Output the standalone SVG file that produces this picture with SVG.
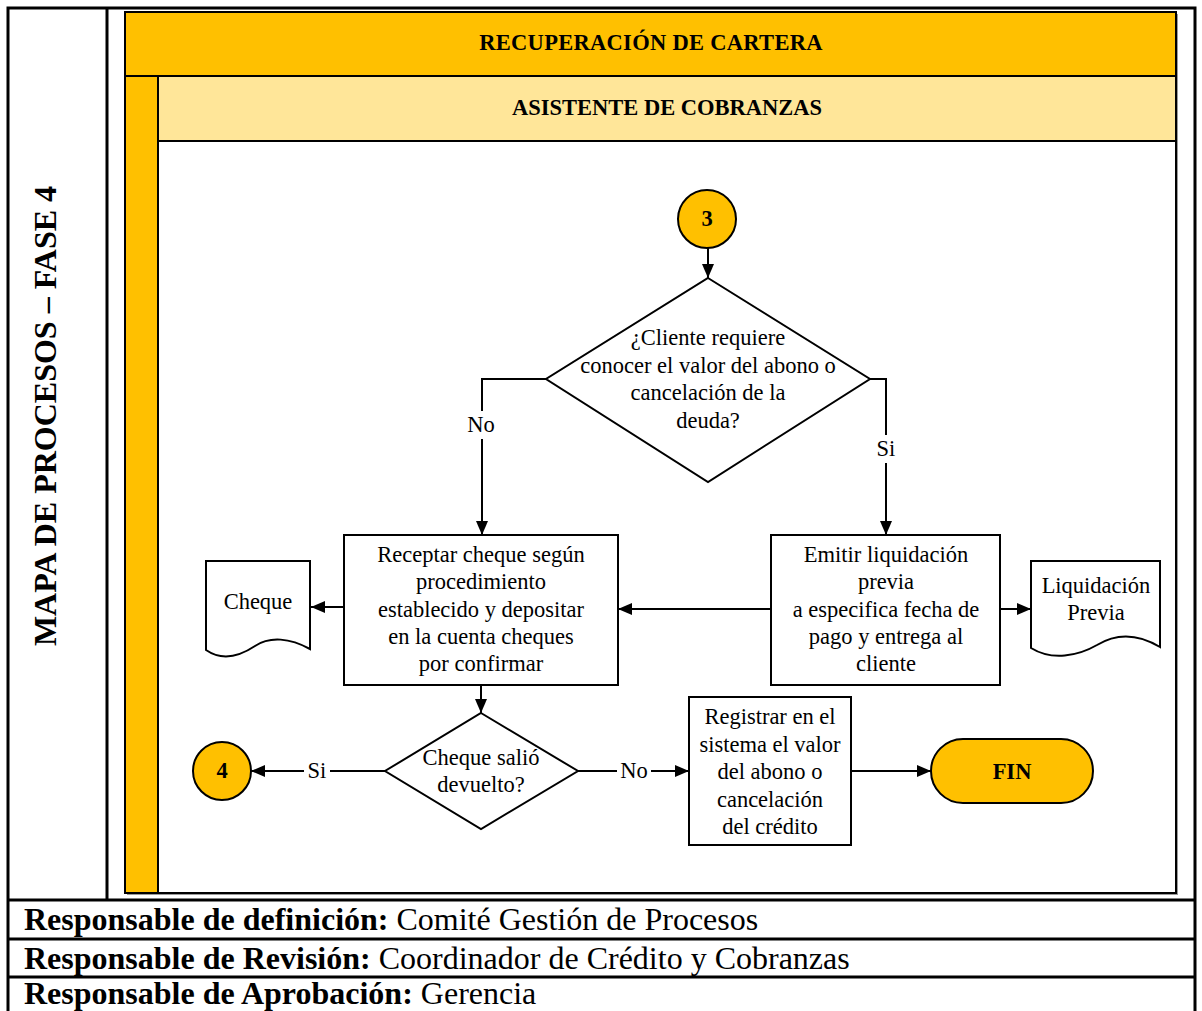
<svg xmlns="http://www.w3.org/2000/svg" width="1202" height="1011" viewBox="0 0 1202 1011">
  <style>
    text { font-family: "Liberation Serif", "Times New Roman", serif; fill: #000; }
    .t { font-size: 22.5px; text-anchor: middle; }
    .b { font-weight: bold; }
    .node { fill: #fff; stroke: #000; stroke-width: 2; }
    .gold { fill: #FFC000; stroke: #000; stroke-width: 2; }
    .conn { fill: none; stroke: #000; stroke-width: 2; }
    .grid { stroke: #000; stroke-width: 3; fill: none; }
    .foot { font-size: 32px; }
  </style>
  <defs>
    <marker id="arrow" viewBox="0 0 14 12" refX="14" refY="6" markerWidth="14" markerHeight="12" markerUnits="userSpaceOnUse" orient="auto">
      <path d="M0,0 L14,6 L0,12 Z" fill="#000"/>
    </marker>
  </defs>

  <rect width="1202" height="1011" fill="#fff"/>

  <!-- outer table frame -->
  <g id="frame">
    <path class="grid" d="M8,1011 V8 H1195 V1011"/>
    <line class="grid" x1="107" y1="8" x2="107" y2="900"/>
    <line class="grid" x1="8" y1="900" x2="1195" y2="900"/>
    <line class="grid" x1="8" y1="939" x2="1195" y2="939"/>
    <line class="grid" x1="8" y1="977" x2="1195" y2="977"/>
    <text class="b" font-size="32" text-anchor="middle" transform="translate(56,416) rotate(-90)">MAPA DE PROCESOS – FASE 4</text>
  </g>

  <!-- swimlane pool -->
  <g id="pool">
    <rect x="127" y="14" width="1051" height="881" fill="#9a9a9a"/>
    <rect x="125" y="12" width="1051" height="881" fill="#fff" stroke="#000" stroke-width="2"/>
    <rect x="125" y="12" width="1051" height="64" fill="#FFC000" stroke="#000" stroke-width="2"/>
    <rect x="125" y="76" width="33" height="817" fill="#FFC000" stroke="#000" stroke-width="2"/>
    <rect x="158" y="76" width="1018" height="65" fill="#FFE699" stroke="#000" stroke-width="2"/>
    <text class="t b" x="651" y="50" letter-spacing="0.3">RECUPERACIÓN DE CARTERA</text>
    <text class="t b" x="667" y="115">ASISTENTE DE COBRANZAS</text>
  </g>

  <!-- connectors -->
  <g id="connectors">
    <line class="conn" x1="708" y1="248" x2="708" y2="278" marker-end="url(#arrow)"/>
    <polyline class="conn" points="546,379 482,379 482,535" marker-end="url(#arrow)"/>
    <polyline class="conn" points="870,379 886,379 886,535" marker-end="url(#arrow)"/>
    <line class="conn" x1="771" y1="609" x2="618" y2="609" marker-end="url(#arrow)"/>
    <line class="conn" x1="344" y1="607" x2="311" y2="607" marker-end="url(#arrow)"/>
    <line class="conn" x1="1000" y1="609" x2="1031" y2="609" marker-end="url(#arrow)"/>
    <line class="conn" x1="481" y1="685" x2="481" y2="713" marker-end="url(#arrow)"/>
    <line class="conn" x1="385" y1="771" x2="251" y2="771" marker-end="url(#arrow)"/>
    <line class="conn" x1="578" y1="771" x2="689" y2="771" marker-end="url(#arrow)"/>
    <line class="conn" x1="851" y1="771" x2="931" y2="771" marker-end="url(#arrow)"/>
    <!-- branch labels -->
    <rect x="464" y="411" width="36" height="28" fill="#fff"/>
    <text class="t" x="481" y="432">No</text>
    <rect x="873" y="435" width="26" height="28" fill="#fff"/>
    <text class="t" x="886" y="456">Si</text>
    <rect x="304" y="757" width="26" height="28" fill="#fff"/>
    <text class="t" x="317" y="778">Si</text>
    <rect x="617" y="757" width="34" height="28" fill="#fff"/>
    <text class="t" x="634" y="778">No</text>
  </g>

  <g id="conector3">
    <circle class="gold" cx="707" cy="219" r="29"/>
    <text class="t b" x="707" y="226">3</text>
  </g>

  <g id="decision1">
    <polygon class="node" points="708,278 870,379 708,482 546,379"/>
    <text class="t" x="708" y="345">¿Cliente requiere</text>
    <text class="t" x="708" y="373">conocer el valor del abono o</text>
    <text class="t" x="708" y="400">cancelación de la</text>
    <text class="t" x="708" y="428">deuda?</text>
  </g>

  <g id="receptar">
    <rect class="node" x="344" y="535" width="274" height="150"/>
    <text class="t" x="481" y="562">Receptar cheque según</text>
    <text class="t" x="481" y="589">procedimiento</text>
    <text class="t" x="481" y="617">establecido y depositar</text>
    <text class="t" x="481" y="644">en la cuenta cheques</text>
    <text class="t" x="481" y="671">por confirmar</text>
  </g>

  <g id="emitir">
    <rect class="node" x="771" y="535" width="229" height="150"/>
    <text class="t" x="886" y="562">Emitir liquidación</text>
    <text class="t" x="886" y="589">previa</text>
    <text class="t" x="886" y="617">a especifica fecha de</text>
    <text class="t" x="886" y="644">pago y entrega al</text>
    <text class="t" x="886" y="671">cliente</text>
  </g>

  <g id="doc-cheque">
    <path class="node" d="M206,561 H310 V649 C290,638 270,636 255,646 C240,656 222,661 206,650 Z"/>
    <text class="t" x="258" y="609">Cheque</text>
  </g>

  <g id="doc-liquidacion">
    <path class="node" d="M1031,561 H1160 V647 C1135,632 1115,634 1097,645 C1078,656 1052,661 1031,648 Z"/>
    <text class="t" x="1096" y="593">Liquidación</text>
    <text class="t" x="1096" y="620">Previa</text>
  </g>

  <g id="decision2">
    <polygon class="node" points="481,713 578,771 481,829 385,771"/>
    <text class="t" x="481" y="765">Cheque salió</text>
    <text class="t" x="481" y="792">devuelto?</text>
  </g>

  <g id="conector4">
    <circle class="gold" cx="222" cy="771" r="29"/>
    <text class="t b" x="222" y="778">4</text>
  </g>

  <g id="registrar">
    <rect class="node" x="689" y="697" width="162" height="148"/>
    <text class="t" x="770" y="724">Registrar en el</text>
    <text class="t" x="770" y="752">sistema el valor</text>
    <text class="t" x="770" y="779">del abono o</text>
    <text class="t" x="770" y="807">cancelación</text>
    <text class="t" x="770" y="834">del crédito</text>
  </g>

  <g id="fin">
    <rect class="gold" x="931" y="739" width="162" height="64" rx="32" ry="32"/>
    <text class="t b" x="1012" y="779">FIN</text>
  </g>

  <!-- responsibility rows -->
  <g id="responsables">
    <text class="foot" x="24" y="930"><tspan class="b">Responsable de definición:</tspan> Comité Gestión de Procesos</text>
    <text class="foot" x="24" y="969"><tspan class="b">Responsable de Revisión:</tspan> Coordinador de Crédito y Cobranzas</text>
    <text class="foot" x="24" y="1004"><tspan class="b">Responsable de Aprobación:</tspan> Gerencia</text>
  </g>
</svg>
